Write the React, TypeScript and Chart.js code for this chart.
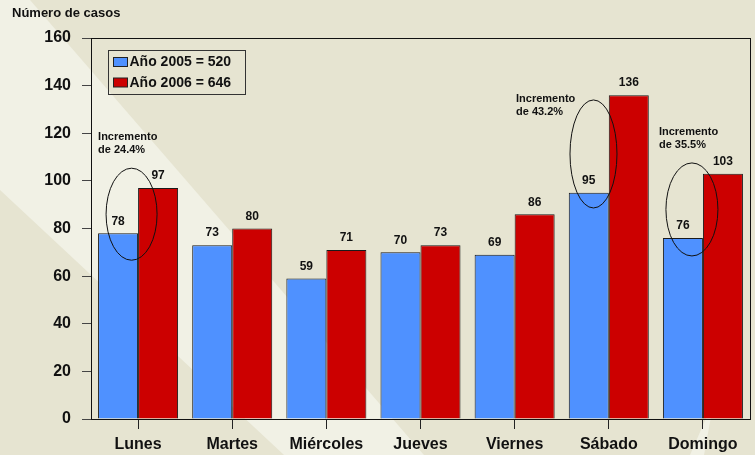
import { useEffect, useRef } from "react";
import { Chart, registerables } from "chart.js";

Chart.register(...registerables);

const categories = ["Lunes", "Martes", "Miércoles", "Jueves", "Viernes", "Sábado", "Domingo"];
const values2005 = [78, 73, 59, 70, 69, 95, 76];
const values2006 = [97, 80, 71, 73, 86, 136, 103];
const seriesLabels = ["Año 2005 = 520", "Año 2006 = 646"];
const yTicks = [0, 20, 40, 60, 80, 100, 120, 140, 160];
const axisTitle = "Número de casos";
const annotationCategories = ["Lunes", "Sábado", "Domingo"];
const annotationTexts = [
  ["Incremento", "de 24.4%"],
  ["Incremento", "de 43.2%"],
  ["Incremento", "de 35.5%"],
];

const FONT = "'Liberation Sans', Arial, Helvetica, sans-serif";
const BLUE = "#4F91FF";
const RED = "#CC0000";

// annotation geometry (pixel offsets from category centre, value-anchored heights)
const annotationLayout = [
  { dx: -6.5, cyValue: 86, rx: 25.5, ry: 46, tdx: -40, tValue: 118.6 },
  { dx: -15.3, cyValue: 111.3, rx: 23.5, ry: 54, tdx: -92.8, tValue: 134.6 },
  { dx: -11, cyValue: 88, rx: 26, ry: 46.5, tdx: -44, tValue: 120.6 },
];

const bgPlugin = {
  id: "bgPlugin",
  beforeDraw(chart: any) {
    const { ctx, width, height } = chart;
    ctx.save();
    ctx.fillStyle = "#E6E4D1";
    ctx.fillRect(0, 0, width, height);
    ctx.fillStyle = "#F1F1E5";
    ctx.beginPath();
    ctx.moveTo(0, 0);
    ctx.lineTo(30, 0);
    ctx.lineTo(424, 455);
    ctx.lineTo(284, 455);
    ctx.lineTo(0, 190);
    ctx.closePath();
    ctx.fill();
    ctx.beginPath();
    ctx.moveTo(690, 455);
    ctx.lineTo(704, 455);
    ctx.lineTo(714, 400);
    ctx.closePath();
    ctx.fill();
    // title
    ctx.fillStyle = "#111";
    ctx.font = `bold 13px ${FONT}`;
    ctx.textAlign = "left";
    ctx.textBaseline = "middle";
    ctx.fillText(axisTitle, 12, 13);
    ctx.restore();
  },
};

const framePlugin = {
  id: "framePlugin",
  beforeDatasetsDraw(chart: any) {
    const { ctx, chartArea } = chart;
    ctx.save();
    ctx.strokeStyle = "#111";
    ctx.lineWidth = 1;
    ctx.strokeRect(
      Math.round(chartArea.left) + 0.5,
      Math.round(chartArea.top) + 0.5,
      Math.round(chartArea.right - chartArea.left),
      Math.round(chartArea.bottom - chartArea.top)
    );
    ctx.restore();
  },
};

const labelsPlugin = {
  id: "labelsPlugin",
  afterDatasetsDraw(chart: any) {
    const { ctx } = chart;
    ctx.save();
    ctx.fillStyle = "#111";
    ctx.font = `bold 12px ${FONT}`;
    ctx.textAlign = "center";
    ctx.textBaseline = "middle";
    chart.data.datasets.forEach((ds: any, i: number) => {
      const meta = chart.getDatasetMeta(i);
      meta.data.forEach((bar: any, j: number) => {
        ctx.fillText(String(ds.data[j]), bar.x, bar.y - 12);
      });
    });
    ctx.restore();
  },
};

const legendPlugin = {
  id: "legendPlugin",
  afterDraw(chart: any) {
    const { ctx, chartArea } = chart;
    const left = Math.round(chartArea.left) + 17.5;
    const top = Math.round(chartArea.top) + 12.5;
    ctx.save();
    ctx.strokeStyle = "#333";
    ctx.lineWidth = 1;
    ctx.strokeRect(left, top, 137, 44);
    const colors = [BLUE, RED];
    ctx.font = `bold 14px ${FONT}`;
    ctx.textAlign = "left";
    ctx.textBaseline = "middle";
    seriesLabels.forEach((lab, i) => {
      const cy = top + 11.5 + i * 20.5;
      ctx.fillStyle = colors[i];
      ctx.fillRect(left + 5, cy - 4.5, 14, 9);
      ctx.strokeStyle = "#222";
      ctx.strokeRect(left + 5, cy - 4.5, 14, 9);
      ctx.fillStyle = "#111";
      ctx.fillText(lab, left + 21, cy + 0.5);
    });
    ctx.restore();
  },
};

const annotationPlugin = {
  id: "annotationPlugin",
  afterDraw(chart: any) {
    const { ctx } = chart;
    const xs = chart.scales.x;
    const ys = chart.scales.y;
    ctx.save();
    annotationCategories.forEach((cat, i) => {
      const L = annotationLayout[i];
      const cx = xs.getPixelForValue(categories.indexOf(cat));
      ctx.strokeStyle = "#111";
      ctx.lineWidth = 1;
      ctx.beginPath();
      ctx.ellipse(cx + L.dx, ys.getPixelForValue(L.cyValue), L.rx, L.ry, 0, 0, Math.PI * 2);
      ctx.stroke();
      ctx.fillStyle = "#111";
      ctx.font = `bold 11px ${FONT}`;
      ctx.textAlign = "left";
      ctx.textBaseline = "middle";
      const ty = ys.getPixelForValue(L.tValue);
      annotationTexts[i].forEach((t, k) => {
        ctx.fillText(t, cx + L.tdx, ty + k * 13.5);
      });
    });
    ctx.restore();
  },
};

export default function App() {
  const ref = useRef<HTMLCanvasElement | null>(null);
  useEffect(() => {
    document.body.style.margin = "0";
    const canvas = ref.current;
    if (!canvas) return;
    const chart = new Chart(canvas, {
      type: "bar",
      data: {
        labels: categories,
        datasets: [
          {
            label: seriesLabels[0],
            data: values2005,
            backgroundColor: BLUE,
            borderColor: "#1a1a1a",
            borderWidth: 1,
            categoryPercentage: 0.85,
            barPercentage: 1.0,
          },
          {
            label: seriesLabels[1],
            data: values2006,
            backgroundColor: RED,
            borderColor: "#1a1a1a",
            borderWidth: 1,
            categoryPercentage: 0.85,
            barPercentage: 1.0,
          },
        ],
      },
      options: {
        animation: false,
        responsive: false,
        maintainAspectRatio: false,
        devicePixelRatio: 1,
        layout: { padding: { top: 38, right: 5, left: 0, bottom: 0 } },
        plugins: { legend: { display: false }, tooltip: { enabled: false } },
        scales: {
          x: {
            grid: {
              offset: false,
              drawOnChartArea: false,
              drawTicks: true,
              tickLength: 10,
              color: "#222",
              lineWidth: 1,
            },
            border: { display: true, color: "#111", width: 1 },
            ticks: {
              font: { family: FONT, size: 16, weight: "bold" },
              color: "#111",
              padding: 6,
              maxRotation: 0,
              autoSkip: false,
            },
            afterFit: (s: any) => {
              s.height = 36;
            },
          },
          y: {
            min: 0,
            max: 160,
            afterBuildTicks: (s: any) => {
              s.ticks = yTicks.map((v) => ({ value: v }));
            },
            ticks: {
              font: { family: FONT, size: 16, weight: "bold" },
              color: "#111",
              padding: 11,
            },
            grid: {
              drawOnChartArea: false,
              drawTicks: true,
              tickLength: 9,
              color: "#444",
            },
            border: { display: true, color: "#111", width: 1 },
            afterFit: (s: any) => {
              s.width = 91;
            },
          },
        },
      } as any,
      plugins: [bgPlugin, framePlugin, labelsPlugin, legendPlugin, annotationPlugin],
    });
    return () => chart.destroy();
  }, []);
  return (
    <div style={{ width: 755, height: 455 }}>
      <canvas ref={ref} width={755} height={455} style={{ width: 755, height: 455, display: "block" }} />
    </div>
  );
}
